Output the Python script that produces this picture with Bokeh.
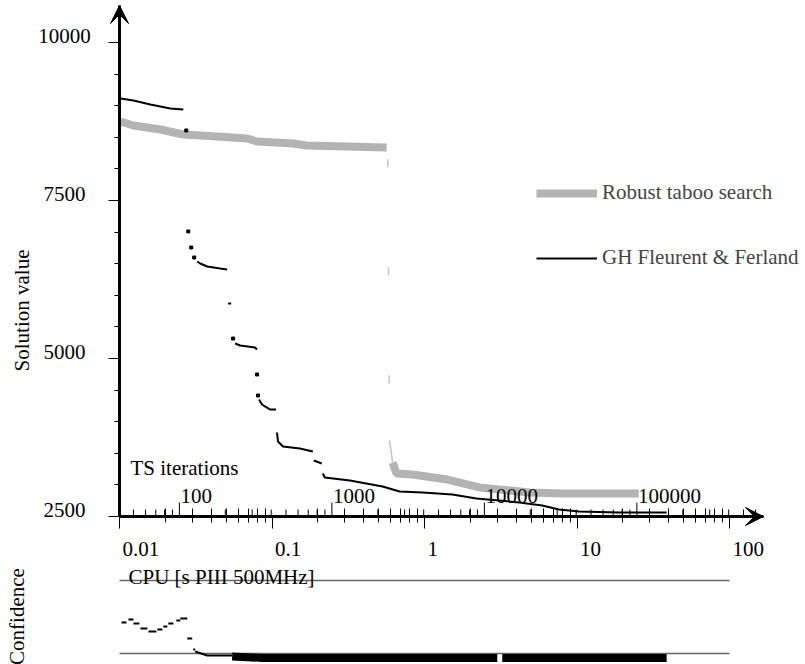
import math
from bokeh.plotting import figure
from bokeh.models import (Range1d, FixedTicker, ColumnDataSource, LabelSet, Label,
                          Legend, LegendItem, Arrow, VeeHead)
from bokeh.core.properties import value
from bokeh.embed import file_html
from bokeh.resources import INLINE

nan = float("nan")

# ---------------- data ----------------
cpu_ticks = [0.01, 0.1, 1, 10, 100]
cpu_labels = ["0.01", "0.1", "1", "10", "100"]
y_ticks = [2500, 5000, 7500, 10000]
y_labels = ["2500", "5000", "7500", "10000"]
ts_major = [100, 1000, 10000, 100000]
ts_labels = ["100", "1000", "10000", "100000"]
SEC_PER_ITER = 2.47e-4

# Robust taboo search (CPU s, solution value)
gray_x = [0.01015, 0.01234, 0.01853, 0.0262, 0.0437, 0.0687, 0.0798, 0.137, 0.169, 0.565,
          0.574, 0.590, 0.618, 0.656, 0.835, 1.413, 2.29, 4.86, 7.98, 25.4]
gray_y = [8750, 8687, 8623, 8544, 8513, 8481, 8434, 8402, 8370, 8339,
          8291, 3703, 3354, 3180, 3164, 3085, 2959, 2880, 2864, 2864]

# GH Fleurent & Ferland (pieces separated by NaN)
gh_x = [0.01015, 0.01234, 0.01595, 0.02154, 0.0262, nan,
        0.03234, 0.0338, 0.0376, 0.0457, 0.0508, nan,
        0.05157, 0.0540, nan,
        0.0573, 0.0618, 0.0774, 0.0798, nan,
        0.0822, 0.0860, 0.0900, 0.0970, 0.1062, nan,
        0.1078, 0.1095, 0.118, 0.1524, 0.1853, nan,
        0.188, 0.212, nan,
        0.2154, 0.222, 0.324, 0.531, 0.687, 0.970, 1.524, 2.188, 4.18, 5.91, 7.63, 10.3, 18.8, 38.7]
gh_y = [9114, 9082, 9019, 8956, 8940, nan,
        6535, 6503, 6456, 6424, 6408, nan,
        5870, 5870, nan,
        5237, 5206, 5174, 5142, nan,
        4351, 4272, 4241, 4193, 4193, nan,
        3829, 3687, 3608, 3576, 3528, nan,
        3386, 3339, nan,
        3180, 3117, 3070, 2975, 2896, 2880, 2848, 2785, 2722, 2674, 2611, 2579, 2563, 2563]
gh_dot_x = [0.02741, 0.02825, 0.02955, 0.0309, 0.0556, 0.0798, 0.0810]
gh_dot_y = [8608, 7010, 6756, 6598, 5316, 4747, 4415]

# Confidence
conf_x0 = [0.01031, 0.01145, 0.01234, 0.01372, 0.01547, 0.01772, 0.01939, 0.0209, 0.02358, 0.02505, 0.02783, 0.03045]
conf_x1 = [0.01111, 0.01234, 0.01351, 0.01524, 0.01745, 0.0191, 0.0206, 0.02254, 0.02505, 0.02783, 0.0300, 0.03138]
conf_v = [0.425, 0.466, 0.411, 0.342, 0.301, 0.329, 0.370, 0.411, 0.452, 0.479, 0.205, 0.055]
conf_tail_x = [0.03138, 0.0376, 0.05478]
conf_tail_y = [0.027, -0.027, -0.027]
conf_band_x = [0.05478, 0.0835, 3.00, nan, 3.234, 38.7]
conf_band_y = [-0.04, -0.06, -0.06, nan, -0.06, -0.06]
conf_ref = [0, 1]

# ---------------- geometry (page pixels) ----------------
FONT = "Liberation Serif"
FS = "21px"
GRAY = "#b3b3b3"
W, H = 805, 664
PAGE_LEFT, PAGE_TOP = 0, 0
AX_X, AX_Y = 119, 516          # where CPU=0.01 and value=2500 sit
DEC = 152.5                     # px per decade
UPP = 2500 / 158                # value units per px
CONF_PX, CONF0_Y = 73, 653      # px per confidence unit, page y of confidence 0

x_start = 0.01 * 10 ** (-(AX_X - PAGE_LEFT) / DEC)
x_end = 0.01 * 10 ** ((PAGE_LEFT + W - AX_X) / DEC)
x_axis_end = 0.01 * 10 ** ((763 - AX_X) / DEC)
y_end = 2500 + (AX_Y - PAGE_TOP) * UPP
y_start = 2500 - (PAGE_TOP + H - AX_Y) * UPP
y_axis_end = 2500 + (AX_Y - 5) * UPP
c_end = (CONF0_Y - PAGE_TOP) / CONF_PX
c_start = (CONF0_Y - (PAGE_TOP + H)) / CONF_PX
X0, Y0 = cpu_ticks[0], y_ticks[0]

p = figure(width=W, height=H, x_axis_type="log",
           x_range=Range1d(x_start, x_end), y_range=Range1d(y_start, y_end),
           output_backend="svg", toolbar_location=None,
           min_border_left=0, min_border_right=0, min_border_top=0, min_border_bottom=0)
p.extra_y_ranges = {"conf": Range1d(c_start, c_end)}
p.grid.visible = False
p.outline_line_color = None

ax = p.xaxis[0]
ax.fixed_location = Y0
ax.bounds = (X0, x_axis_end)
ax.ticker = FixedTicker(ticks=cpu_ticks,
                        minor_ticks=[k * 10.0 ** d for d in range(-2, 2) for k in range(2, 10)])
ax.axis_line_width = 3
ax.axis_line_color = "black"
ax.major_tick_out = 12
ax.major_tick_in = 0
ax.minor_tick_out = 6
ax.minor_tick_in = 8
ax.major_tick_line_color = "black"
ax.minor_tick_line_color = "black"
ax.major_label_text_font_size = "1px"
ax.major_label_text_color = None

ay = p.yaxis[0]
ay.fixed_location = X0
ay.bounds = (Y0, y_axis_end)
ay.ticker = FixedTicker(ticks=y_ticks, minor_ticks=list(range(3000, 10000, 500)))
ay.axis_line_width = 3
ay.axis_line_color = "black"
ay.major_tick_out = 11
ay.major_tick_in = 0
ay.minor_tick_out = 5
ay.minor_tick_in = 0
ay.major_tick_line_color = "black"
ay.minor_tick_line_color = "black"
ay.major_label_text_font_size = "1px"
ay.major_label_text_color = None

# arrow heads on axes
p.add_layout(Arrow(end=VeeHead(size=18, fill_color="black", line_color="black"),
                   x_start=cpu_ticks[-1], y_start=Y0, x_end=x_axis_end, y_end=Y0,
                   line_width=3, line_color="black"))
p.add_layout(Arrow(end=VeeHead(size=18, fill_color="black", line_color="black"),
                   x_start=X0, y_start=y_ticks[-1], x_end=X0, y_end=y_axis_end,
                   line_width=3, line_color="black"))

# TS iterations ticks (secondary scale along the same axis)
ts_minor = [k * 10 ** d for d in range(1, 6) for k in range(2, 10)]
ts_minor = [t for t in ts_minor if X0 < t * SEC_PER_ITER < x_axis_end]
tmx = [t * SEC_PER_ITER for t in ts_minor]
p.segment(x0=tmx, y0=[Y0] * len(tmx), x1=tmx, y1=[Y0 + 7 * UPP] * len(tmx),
          line_color="black", line_width=1)
tMx = [t * SEC_PER_ITER for t in ts_major]
p.segment(x0=tMx, y0=[Y0] * len(tMx), x1=tMx, y1=[Y0 + 14 * UPP] * len(tMx),
          line_color="black", line_width=1)

# series
g_up = p.line(gray_x[:10], gray_y[:10], line_width=8, line_color=GRAY)
p.line(gray_x[9:12], gray_y[9:12], line_width=1.5, line_color="#c4c4c4",
       line_dash="8 100", line_dash_offset=96)
p.line(gray_x[11:13], gray_y[11:13], line_width=1.5, line_color="#c4c4c4")
p.line(gray_x[12:], gray_y[12:], line_width=8, line_color=GRAY)
gh = p.line(gh_x, gh_y, line_width=2, line_color="black")
p.scatter(gh_dot_x, gh_dot_y, marker="square", size=3, color="black")

legend = Legend(items=[LegendItem(label="Robust taboo search", renderers=[g_up]),
                       LegendItem(label="GH Fleurent & Ferland", renderers=[gh])],
                location=(536 - PAGE_LEFT, PAGE_TOP + H - 270),
                glyph_width=61, glyph_height=24, label_height=24,
                label_standoff=5, spacing=40, padding=0, margin=0,
                border_line_color=None, background_fill_alpha=0,
                label_text_font=FONT, label_text_font_size=FS)
p.add_layout(legend)

# tick labels and titles
p.add_layout(LabelSet(x="x", y="y", text="t", source=ColumnDataSource(dict(
    x=cpu_ticks, y=[Y0] * len(cpu_ticks), t=cpu_labels)),
    x_offset=3, y_offset=-39, text_align="left", text_baseline="alphabetic",
    text_font=value(FONT), text_font_size=value(FS), text_color="black"))
p.add_layout(LabelSet(x="x", y="y", text="t", source=ColumnDataSource(dict(
    x=[X0] * len(y_ticks), y=y_ticks, t=y_labels)),
    x_offset=-55, y_offset=0, text_align="center", text_baseline="alphabetic",
    text_font=value(FONT), text_font_size=value(FS), text_color="black"))
p.add_layout(LabelSet(x="x", y="y", text="t", source=ColumnDataSource(dict(
    x=tMx, y=[Y0] * len(tMx), t=ts_labels)),
    x_offset=1, y_offset=14, text_align="left", text_baseline="alphabetic",
    text_font=value(FONT), text_font_size=value(FS), text_color="black"))
p.add_layout(Label(x=X0, y=Y0, x_offset=11, y_offset=49, text="TS iterations",
                   text_align="left", text_baseline="alphabetic",
                   text_font=FONT, text_font_size=FS, text_color="black"))
p.add_layout(Label(x=X0, y=Y0, x_offset=9, y_offset=-60, text="CPU [s PIII 500MHz]",
                   text_align="left", text_baseline="alphabetic",
                   text_font=FONT, text_font_size=FS, text_color="black"))
p.add_layout(Label(x=X0, y=Y0, x_offset=-98, y_offset=206, text="Solution value",
                   angle=math.pi / 2, text_align="center", text_baseline="middle",
                   text_font=FONT, text_font_size=FS, text_color="black"))
p.add_layout(Label(x=X0, y=0, y_range_name="conf", x_offset=-103, y_offset=37,
                   text="Confidence", angle=math.pi / 2, text_align="center",
                   text_baseline="middle", text_font=FONT, text_font_size=FS,
                   text_color="black"))

# confidence panel
for r in conf_ref:
    p.line([cpu_ticks[0], cpu_ticks[-1]], [r, r], y_range_name="conf",
           line_width=1.5, line_color="#666666")
p.segment(x0=conf_x0, y0=conf_v, x1=conf_x1, y1=conf_v, y_range_name="conf",
          line_width=2, line_color="black")
p.line(conf_tail_x, conf_tail_y, y_range_name="conf", line_width=2, line_color="black")
p.line(conf_band_x, conf_band_y, y_range_name="conf", line_width=8, line_color="black")

open("out.html", "w").write(file_html(p, INLINE))
